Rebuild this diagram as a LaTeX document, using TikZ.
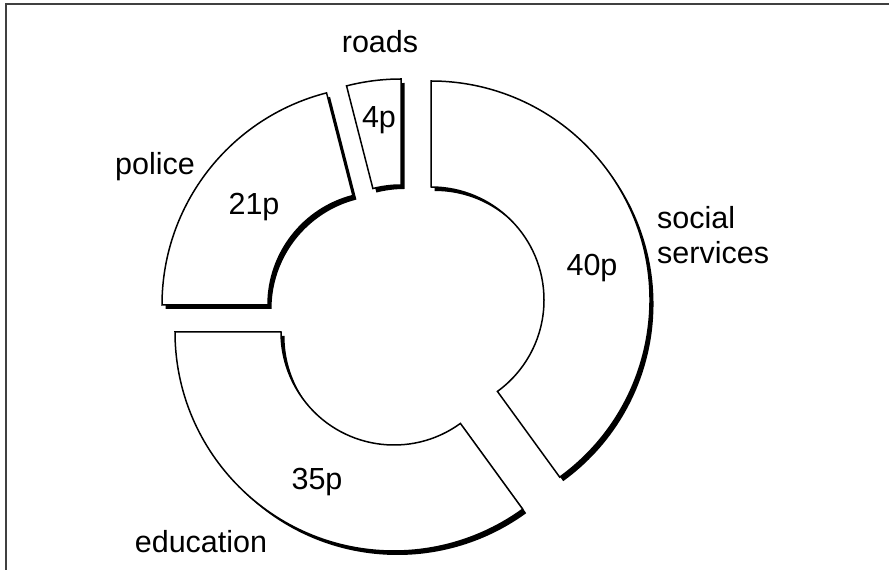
\documentclass[tikz,border=0pt]{standalone}
\usepackage{fontspec}
\setmainfont{Liberation Sans}
\usetikzlibrary{calc}
\newcommand\dnrin{113}
\newcommand\dnrout{219}
% ring segment around centre #1, from angle #2 to angle #3
\newcommand\ringseg[3]{(#1) ++(#2:\dnrout) arc[start angle=#2, end angle=#3, radius=\dnrout] -- ++(#3:{\dnrin-\dnrout}) arc[start angle=#3, end angle=#2, radius=\dnrin] -- cycle}
\tikzset{
  segshadow/.style={fill=black, shift={(3.5,-4)}},
  segface/.style={fill=white, draw=black, line width=1.5pt, line join=miter},
  lbl/.style={font=\fontsize{30.5}{36}\selectfont, inner sep=0pt, anchor=base}
}
\begin{document}
\begin{tikzpicture}[x=1pt,y=1pt]
  \useasboundingbox (0,0) rectangle (889,570);

  % Frame
  \draw [line width=1.3pt, black!75] (6,0) -- (6,566) -- (889,566);

  % Segment social services 40p
  \fill [segshadow] \ringseg{431,270}{-54}{90};
  \filldraw [segface] \ringseg{431,270}{-54}{90};

  % Segment roads 4p
  \fill [segshadow] \ringseg{401,272}{90}{104.4};
  \filldraw [segface] \ringseg{401,272}{90}{104.4};

  % Segment police 21p
  \fill [segshadow] \ringseg{381,265}{104.4}{180};
  \filldraw [segface] \ringseg{381,265}{104.4}{180};

  % Segment education 35p
  \fill [segshadow] \ringseg{394,238}{180}{306};
  \filldraw [segface] \ringseg{394,238}{180}{306};

  % Labels
  \node [lbl] (roads) at (380,517) {roads};
  \node [lbl] (roadsval) at (379,442) {4p};
  \node [lbl] (police) at (155,395) {police};
  \node [lbl] (policeval) at (254,355) {21p};
  \node [lbl, anchor=base west] (social) at (657,341) {social};
  \node [lbl, anchor=base west] (services) at (657,306) {services};
  \node [lbl] (socialval) at (592,294) {40p};
  \node [lbl] (educationval) at (317,80) {35p};
  \node [lbl] (education) at (201,17) {education};
\end{tikzpicture}
\end{document}
